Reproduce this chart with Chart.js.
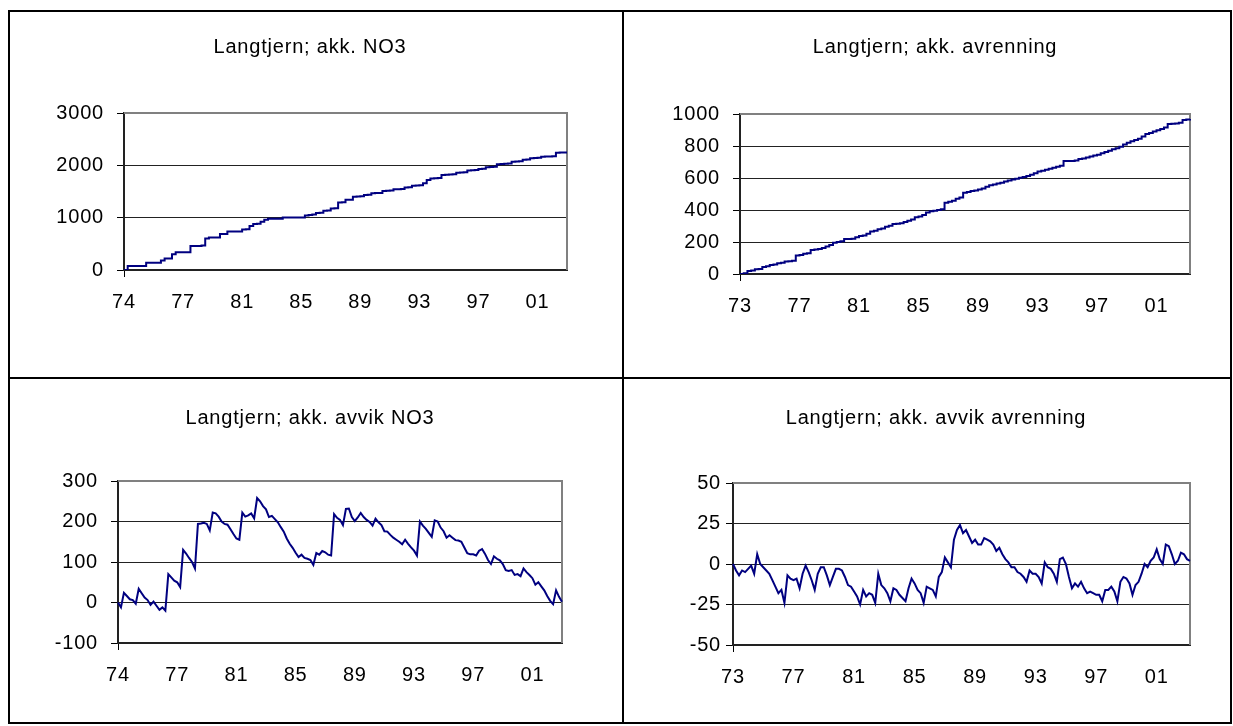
<!DOCTYPE html>
<html>
<head>
<meta charset="utf-8">
<script src="https://cdn.jsdelivr.net/npm/chart.js@4"></script>
<style>
  body { margin: 0; background: #fff; }
  #page { position: relative; width: 1233px; height: 726px; }
  .rule { position: absolute; background: #000; }
  canvas { position: absolute; }
</style>
</head>
<body>
<div id="page">
  <div class="rule" style="left:8px;top:10px;width:1224px;height:2px"></div>
  <div class="rule" style="left:8px;top:10px;width:2px;height:714px"></div>
  <div class="rule" style="left:1230px;top:10px;width:2px;height:714px"></div>
  <div class="rule" style="left:8px;top:722px;width:1224px;height:2px"></div>
  <div class="rule" style="left:622px;top:10px;width:2px;height:714px"></div>
  <div class="rule" style="left:8px;top:377px;width:1224px;height:2px"></div>

  <canvas id="c1" width="612" height="365" style="left:10px;top:12px"></canvas>
  <canvas id="c2" width="606" height="365" style="left:624px;top:12px"></canvas>
  <canvas id="c3" width="612" height="343" style="left:10px;top:379px"></canvas>
  <canvas id="c4" width="606" height="343" style="left:624px;top:379px"></canvas>
</div>
<script>
// tick labels on the category axes (one label every N points)
const yearsNO3 = ['74', '77', '81', '85', '89', '93', '97', '01'];
const yearsQ = ['73', '77', '81', '85', '89', '93', '97', '01'];

// akkumulert NO3
const akkNO3 = [
  0, 75, 75, 75, 75, 75, 140, 140, 140, 140,
  180, 220, 220, 300, 340, 340, 340, 340, 460, 460,
  460, 470, 600, 620, 620, 620, 690, 690, 735, 735,
  735, 735, 775, 780, 840, 880, 885, 920, 960, 980,
  980, 980, 980, 1005, 1005, 1005, 1005, 1005, 1005, 1040,
  1050, 1060, 1090, 1095, 1130, 1135, 1175, 1180, 1290, 1295,
  1340, 1340, 1400, 1405, 1410, 1435, 1440, 1465, 1470, 1470,
  1510, 1515, 1520, 1545, 1545, 1550, 1575, 1580, 1610, 1615,
  1620, 1660, 1720, 1750, 1755, 1760, 1815, 1820, 1825, 1830,
  1860, 1865, 1870, 1900, 1905, 1910, 1930, 1935, 1965, 1970,
  1975, 2020, 2025, 2030, 2035, 2070, 2075, 2080, 2105, 2110,
  2135, 2140, 2145, 2165, 2170, 2170, 2175, 2240, 2245, 2245,
  2245
];

// akkumulert avrenning
const akkAvrenning = [
  0, 5, 18, 22, 29, 32, 44, 48, 56, 60,
  67, 70, 78, 80, 83, 115, 118, 126, 130, 150,
  153, 157, 162, 172, 182, 195, 200, 205, 219, 219,
  220, 230, 238, 240, 252, 265, 270, 279, 285, 295,
  302, 312, 314, 317, 325, 333, 340, 354, 360, 369,
  385, 392, 396, 400, 404, 445, 452, 458, 470, 478,
  508, 512, 518, 522, 528, 535, 545, 555, 560, 566,
  571, 578, 585, 590, 596, 602, 607, 612, 620, 630,
  640, 646, 652, 658, 664, 671, 676, 706, 706, 707,
  710, 718, 722, 728, 734, 740, 746, 754, 762, 770,
  779, 786, 796, 810, 821, 830, 838, 845, 860, 875,
  882, 890, 898, 906, 915, 937, 939, 941, 945, 962,
  965, 969
];

// akkumulert avvik NO3
const avvikNO3 = [
  0, -12, 24, 16, 8, 6, -3, 34, 23, 12,
  6, -6, 2, -8, -18, -12, -20, 70, 62, 54,
  50, 38, 130, 121, 110, 100, 84, 194, 195, 197,
  194, 178, 222, 220, 212, 200, 194, 192, 181, 169,
  158, 155, 222, 212, 215, 220, 208, 258, 250, 238,
  230, 211, 214, 206, 198, 186, 175, 158, 145, 135,
  123, 112, 118, 110, 108, 105, 93, 122, 118, 127,
  124, 118, 116, 218, 209, 204, 191, 231, 232, 211,
  201, 210, 221, 211, 204, 199, 190, 207, 198, 191,
  176, 175, 167, 160, 155, 150, 144, 155, 145, 136,
  128, 116, 200, 190, 182, 172, 162, 203, 200, 185,
  176, 160, 166, 160, 154, 153, 150, 136, 122, 119,
  119, 116, 128, 132, 120, 105, 95, 114, 108, 104,
  95, 80, 78, 80, 68, 70, 65, 84, 75, 68,
  60, 44, 50, 40, 30, 16, 4, -4, 30, 14,
  2
];

// akkumulert avvik avrenning
const avvikAvrenning = [
  0, -4, -7, -4, -5, -3, -1, -6, 6, 0,
  -2, -4, -6, -10, -14, -18, -16, -24, -7, -9,
  -10, -9, -15, -6, -1, -5, -10, -16, -6, -2,
  -2, -7, -13, -8, -3, -3, -4, -8, -13, -14,
  -17, -20, -25, -16, -20, -18, -19, -24, -6, -13,
  -15, -18, -23, -15, -16, -19, -21, -23, -15, -9,
  -12, -16, -18, -24, -14, -15, -16, -20, -8, -5,
  4, 1, -2, 15, 21, 24, 19, 21, 17, 13,
  15, 12, 12, 16, 15, 14, 12, 8, 10, 6,
  3, 1, -2, -2, -5, -6, -8, -11, -4, -6,
  -6, -8, -12, 1, -2, -3, -6, -11, 3, 4,
  0, -8, -15, -12, -14, -11, -15, -18, -17, -18,
  -19, -19, -23, -16, -16, -14, -17, -23, -11, -8,
  -9, -12, -19, -13, -11, -6, 0, -2, 2, 4,
  9, 3, 0, 12, 11, 6, 0, 2, 7, 6,
  3, 2
];

const FONT = { family: 'Liberation Sans, Arial, sans-serif', size: 20, weight: 'normal' };

// the Excel text is a bit wider than Arial, so space the letters out a little
const spacingPlugin = {
  id: 'spacing',
  beforeUpdate(chart) { chart.ctx.letterSpacing = '0.8px'; },
  beforeDraw(chart) { chart.ctx.letterSpacing = '0.8px'; }
};

// gray frame on top and right of the plot area (Excel style)
const framePlugin = {
  id: 'frame',
  beforeDatasetsDraw(chart) {
    const { ctx, chartArea: a } = chart;
    ctx.save();
    ctx.strokeStyle = '#808080';
    ctx.lineWidth = 2;
    ctx.beginPath();
    ctx.moveTo(a.left, a.top);
    ctx.lineTo(a.right, a.top);
    ctx.lineTo(a.right, a.bottom);
    ctx.stroke();
    ctx.restore();
  }
};

// title placed at a fixed spot in the cell, not centred on the plot
const cellTitle = {
  id: 'cellTitle',
  afterDraw(chart, args, opts) {
    const ctx = chart.ctx;
    ctx.save();
    ctx.font = FONT.size + 'px ' + FONT.family;
    ctx.fillStyle = '#000';
    ctx.textAlign = 'center';
    ctx.textBaseline = 'middle';
    ctx.fillText(opts.text, opts.x, opts.y);
    ctx.restore();
  }
};

function makeChart(id, o) {
  const labels = o.values.map((v, i) => i);
  return new Chart(document.getElementById(id), {
    type: 'line',
    data: {
      labels: labels,
      datasets: [{
        data: o.values,
        borderColor: '#000080',
        borderWidth: 2,
        pointRadius: 0,
        stepped: o.stepped,
        tension: 0,
        fill: false
      }]
    },
    options: {
      responsive: false,
      animation: false,
      layout: { padding: { left: 0, top: o.top, right: o.right, bottom: o.bottom } },
      plugins: {
        legend: { display: false },
        tooltip: { enabled: false },
        title: { display: false },
        cellTitle: { text: o.title, x: o.titleX, y: o.titleY }
      },
      scales: {
        x: {
          ticks: {
            autoSkip: false,
            maxRotation: 0,
            padding: 13,
            color: '#000',
            font: FONT,
            callback: (v, i) => (i % o.every === 0 ? o.ticks[i / o.every] : null)
          },
          grid: {
            drawOnChartArea: false,
            tickLength: 7,
            tickColor: c => (c.index % o.every === 0 ? '#000' : 'rgba(0,0,0,0)')
          },
          border: { color: '#222', width: 2 },
          afterFit: s => { s.height = 50; }
        },
        y: {
          min: o.min,
          max: o.max,
          ticks: { stepSize: o.step, padding: o.yPad, color: '#000', font: FONT, callback: v => String(v) },
          grid: {
            color: c => (c.tick && c.tick.value === o.max ? 'rgba(0,0,0,0)' : '#222'),
            tickColor: '#000',
            tickLength: 7
          },
          border: { color: '#222', width: 2 },
          afterFit: s => { s.width = o.left; }
        }
      }
    },
    plugins: [spacingPlugin, framePlugin, cellTitle]
  });
}

makeChart('c1', {
  title: 'Langtjern; akk. NO3', titleX: 300, titleY: 35,
  values: akkNO3, ticks: yearsNO3, every: 16, stepped: true,
  min: 0, max: 3000, step: 1000, yPad: 13,
  left: 114, top: 101, right: 55, bottom: 57
});
makeChart('c2', {
  title: 'Langtjern; akk. avrenning', titleX: 311, titleY: 35,
  values: akkAvrenning, ticks: yearsQ, every: 16, stepped: true,
  min: 0, max: 1000, step: 200, yPad: 13,
  left: 116, top: 102, right: 40, bottom: 53
});
makeChart('c3', {
  title: 'Langtjern; akk. avvik NO3', titleX: 300, titleY: 39,
  values: avvikNO3, ticks: yearsNO3, every: 20, stepped: false,
  min: -100, max: 300, step: 100, yPad: 13,
  left: 108, top: 102, right: 60, bottom: 29
});
makeChart('c4', {
  title: 'Langtjern; akk. avvik avrenning', titleX: 312, titleY: 39,
  values: avvikAvrenning, ticks: yearsQ, every: 20, stepped: false,
  min: -50, max: 50, step: 25, yPad: 5,
  left: 109, top: 104, right: 40, bottom: 27
});
</script>
</body>
</html>
